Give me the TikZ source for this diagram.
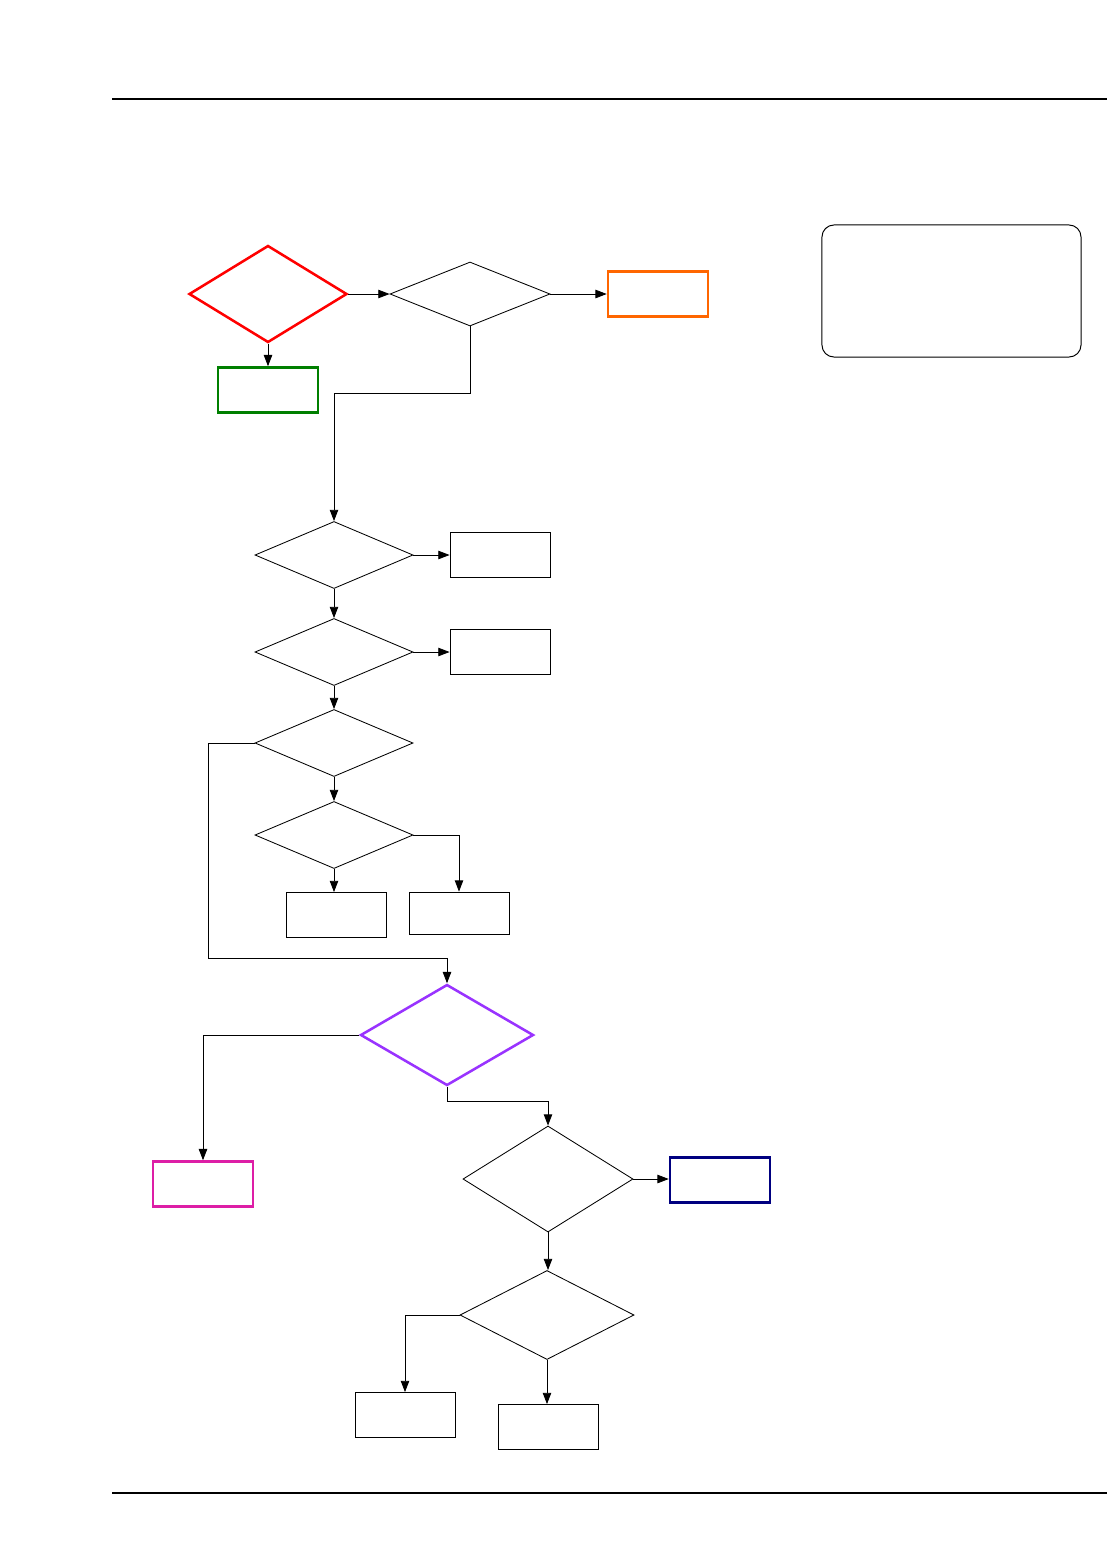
\documentclass[tikz,border=0pt]{standalone}
\usepackage{xcolor}
\definecolor{startred}{HTML}{ff0000}
\definecolor{okgreen}{HTML}{007f00}
\definecolor{warnorange}{HTML}{ff6600}
\definecolor{checkpurple}{HTML}{9933ff}
\definecolor{failmagenta}{HTML}{dd1ea6}
\definecolor{donenavy}{HTML}{000080}
\usetikzlibrary{
  arrows.meta,
  positioning,
  shapes.geometric
}

\begin{document}
\begin{tikzpicture}[
  x=0.025cm, y=-0.025cm,
  dec/.style={diamond, draw, line width=0.6pt, inner sep=0pt, minimum width=3.95cm, minimum height=1.675cm},
  box/.style={rectangle, draw, line width=0.6pt, minimum width=2.5cm, minimum height=1.125cm},
  hot/.style={line width=1.8pt},
  arr/.style={-{Triangle[length=8pt, width=6pt]}, line width=0.6pt},
  rule/.style={line width=0.8pt},
]
\useasboundingbox (0,0) rectangle (1107,1554);

% page rules
\draw[rule] (112,99) -- (1107,99);
\draw[rule] (112,1493) -- (1107,1493);

% top row
\node[dec, draw=startred, hot, minimum width=3.95cm, minimum height=2.425cm] (start) at (268,294) {};
\node[box, draw=okgreen, hot] (pass) at (268,390) {};
\node[dec, minimum width=4cm, minimum height=1.6cm] (first) at (470,294) {};
\node[box, draw=warnorange, hot] (warn) at (658,294) {};
\node[rectangle, draw, line width=0.7pt, rounded corners=0.3cm, minimum width=6.475cm, minimum height=3.3cm] (note) at (951.5,291) {};

% middle column
\node[dec] (chk1) at (334,555) {};
\node[box] (res1) at (500,555) {};
\node[dec] (chk2) at (334,652) {};
\node[box] (res2) at (500,652) {};
\node[dec] (chk3) at (334,743) {};
\node[dec] (chk4) at (334,835) {};
\node[box] (res4a) at (336,915) {};
\node[box, minimum height=1.05cm] (res4b) at (459,913) {};

% lower part
\node[dec, draw=checkpurple, hot, minimum width=4.325cm, minimum height=2.525cm] (verify) at (447,1035) {};
\node[box, draw=failmagenta, hot] (fail) at (203,1184) {};
\node[dec, minimum width=4.25cm, minimum height=2.65cm] (chk5) at (548,1179) {};
\node[box, draw=donenavy, hot] (done) at (720,1180) {};
\node[dec, minimum width=4.35cm, minimum height=2.225cm] (chk6) at (547,1315) {};
\node[box] (res6a) at (405,1415) {};
\node[box] (res6b) at (548,1427) {};

% connectors
\draw[arr] (start.south) -- (pass.north);
\draw[arr] (start.east) -- (first.west);
\draw[arr] (first.east) -- (warn.west);
\draw[arr] (first.south) -- ++(0,67) -| (chk1.north);
\draw[arr] (chk1.east) -- (res1.west);
\draw[arr] (chk1.south) -- (chk2.north);
\draw[arr] (chk2.east) -- (res2.west);
\draw[arr] (chk2.south) -- (chk3.north);
\draw[arr] (chk3.south) -- (chk4.north);
\draw[arr] (chk4.south) -- (res4a.north -| chk4.south);
\draw[arr] (chk4.east) -| (res4b.north);
\draw[arr] (chk3.west) -- ++(-46,0) -- ++(0,215) -| (verify.north);
\draw[arr] (verify.west) -| (fail.north);
\draw[arr] (verify.south) -- ++(0,15) -| (chk5.north);
\draw[arr] (chk5.east) -- (done.west |- chk5.east);
\draw[arr] (chk5.south) -- (chk6.north -| chk5.south);
\draw[arr] (chk6.west) -| (res6a.north);
\draw[arr] (chk6.south) -- (res6b.north -| chk6.south);

\end{tikzpicture}
\end{document}
